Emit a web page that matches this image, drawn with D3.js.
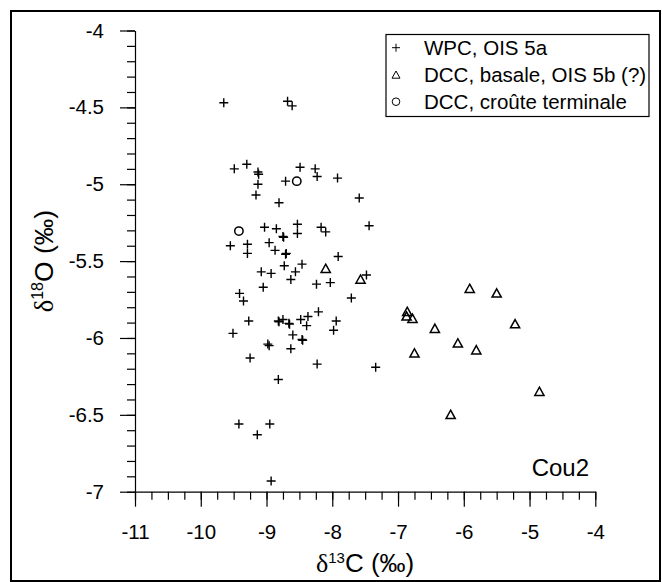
<!DOCTYPE html>
<html><head><meta charset="utf-8">
<script src="https://cdn.jsdelivr.net/npm/d3@7"></script>
<style>html,body{margin:0;padding:0;background:#fff;}</style>
</head><body>
<script>
// WPC, OIS 5a  [d13C, d18O]
const wpc = [
  [-9.65,-4.47],[-8.68,-4.46],[-8.61,-4.49],
  [-9.49,-4.90],[-9.30,-4.87],[-9.13,-4.92],[-9.12,-4.935],[-9.13,-5.00],[-9.16,-5.07],
  [-8.81,-5.12],[-8.49,-4.89],[-8.26,-4.90],[-8.23,-4.95],[-7.92,-4.96],[-8.71,-4.98],
  [-7.59,-5.09],[-7.44,-5.27],[-9.03,-5.28],[-8.85,-5.29],[-8.75,-5.34],[-8.74,-5.345],
  [-8.53,-5.26],[-8.53,-5.32],[-8.17,-5.28],[-8.10,-5.31],[-9.55,-5.40],[-9.29,-5.39],
  [-9.29,-5.45],[-8.96,-5.38],[-8.87,-5.43],[-8.70,-5.45],[-8.71,-5.455],[-7.91,-5.47],
  [-9.08,-5.57],[-8.93,-5.58],[-8.73,-5.53],[-8.46,-5.52],[-8.56,-5.57],[-8.63,-5.62],
  [-7.48,-5.59],[-8.24,-5.65],[-8.03,-5.64],[-9.05,-5.67],[-9.41,-5.71],[-9.35,-5.76],
  [-7.71,-5.74],[-8.21,-5.83],[-8.37,-5.86],[-9.27,-5.89],[-8.82,-5.89],[-8.81,-5.895],
  [-8.75,-5.88],[-8.65,-5.91],[-8.66,-5.905],[-8.48,-5.88],[-8.39,-5.92],[-7.94,-5.89],
  [-7.98,-5.95],[-9.51,-5.97],[-8.60,-5.98],[-8.46,-6.01],[-8.45,-6.015],[-8.98,-6.04],
  [-8.96,-6.05],[-8.63,-6.07],[-9.25,-6.13],[-8.23,-6.17],[-7.34,-6.19],[-8.82,-6.27],
  [-9.42,-6.56],[-8.95,-6.56],[-9.14,-6.63],[-8.93,-6.93]
];
// DCC, basale, OIS 5b (?)
const dccBasale = [
  [-8.10,-5.55],[-7.57,-5.62],[-5.91,-5.68],[-5.50,-5.71],[-6.86,-5.83],[-6.87,-5.86],
  [-6.78,-5.875],[-5.22,-5.91],[-6.44,-5.94],[-6.09,-6.035],[-5.81,-6.08],[-6.75,-6.10],
  [-4.85,-6.35],[-6.20,-6.50]
];
// DCC, croûte terminale
const dccCroute = [[-9.42,-5.305],[-8.54,-4.98]];

const xTicks = [-11,-10,-9,-8,-7,-6,-5,-4];
const yTicks = [-7,-6.5,-6,-5.5,-5,-4.5,-4];
const legendLabels = ["WPC, OIS 5a","DCC, basale, OIS 5b (?)","DCC, croûte terminale"];

const W = 662, H = 582;
const FONT = "'Liberation Sans', Arial, sans-serif";
const SERIF = "'Liberation Serif', 'Times New Roman', serif";
const svg = d3.select("body").append("svg").attr("width", W).attr("height", H)
  .style("font-family", FONT);

svg.append("rect").attr("x", 11).attr("y", 11).attr("width", 649).attr("height", 570)
  .attr("fill", "#fff").attr("stroke", "#000").attr("stroke-width", 2);

const x = d3.scaleLinear().domain([-11, -4]).range([135, 595.3]);
const y = d3.scaleLinear().domain([-7, -4]).range([491.7, 30.5]);

const fmt = d => String(d);

// minor ticks
svg.append("g").attr("transform", `translate(${x(-11)},0)`)
  .call(d3.axisLeft(y).tickValues(d3.range(0, 31).map(i => -7 + i * 0.1)).tickSize(8).tickSizeOuter(0).tickFormat(""))
  .call(g => g.select(".domain").remove());
svg.append("g").attr("transform", `translate(0,${y(-7)})`)
  .call(d3.axisBottom(x).tickValues(d3.range(0, 29).map(i => -11 + i * 0.25)).tickSize(8).tickSizeOuter(0).tickFormat(""))
  .call(g => g.select(".domain").remove());

// major axes
const yAxis = svg.append("g").attr("transform", `translate(${x(-11)},0)`)
  .call(d3.axisLeft(y).tickValues(yTicks).tickSize(15).tickSizeOuter(0).tickPadding(16).tickFormat(fmt));
const xAxis = svg.append("g").attr("transform", `translate(0,${y(-7)})`)
  .call(d3.axisBottom(x).tickValues(xTicks).tickSize(15).tickSizeOuter(0).tickPadding(18).tickFormat(fmt));
[yAxis, xAxis].forEach(g => {
  g.attr("font-family", FONT).attr("font-size", 20.5);
  g.selectAll("text").attr("fill", "#000");
});
svg.selectAll(".domain, .tick line").attr("stroke", "#000").attr("stroke-width", 1.2);

// axis titles
const xt = svg.append("text").attr("x", (x(-11) + x(-4)) / 2).attr("y", 572)
  .attr("text-anchor", "middle").attr("font-size", 26).attr("fill", "#000");
xt.append("tspan").attr("font-family", SERIF).text("δ");
xt.append("tspan").attr("font-size", 15).attr("dy", -9).text("13");
xt.append("tspan").attr("dy", 9).text("C (‰)");

const yt = svg.append("text").attr("transform", `translate(53,${(y(-4) + y(-7)) / 2}) rotate(-90)`)
  .attr("text-anchor", "middle").attr("font-size", 26.5).attr("fill", "#000");
yt.append("tspan").attr("font-family", SERIF).text("δ");
yt.append("tspan").attr("font-size", 16).attr("dy", -10).text("18");
yt.append("tspan").attr("dy", 10).text("O (‰)");

// marks
const plusPath = s => `M${-s},0H${s}M0,${-s}V${s}`;
const triPath = s => `M0,${-s}L${s},${s * 0.8}L${-s},${s * 0.8}Z`;

svg.append("g").selectAll("path").data(wpc).join("path")
  .attr("transform", d => `translate(${x(d[0])},${y(d[1])})`)
  .attr("d", plusPath(4.5)).attr("fill", "none").attr("stroke", "#000").attr("stroke-width", 1.4);
svg.append("g").selectAll("path").data(dccBasale).join("path")
  .attr("transform", d => `translate(${x(d[0])},${y(d[1])})`)
  .attr("d", triPath(4.6)).attr("fill", "none").attr("stroke", "#000").attr("stroke-width", 1.5);
svg.append("g").selectAll("circle").data(dccCroute).join("circle")
  .attr("cx", d => x(d[0])).attr("cy", d => y(d[1])).attr("r", 4.2)
  .attr("fill", "none").attr("stroke", "#000").attr("stroke-width", 1.5);

// Cou2 label
svg.append("text").attr("x", 589).attr("y", 476).attr("text-anchor", "end")
  .attr("font-size", 24).attr("fill", "#000").text("Cou2");

// legend
const lg = svg.append("g");
lg.append("rect").attr("x", 386).attr("y", 34.5).attr("width", 263).attr("height", 82)
  .attr("fill", "#fff").attr("stroke", "#000").attr("stroke-width", 1.2);
const rows = [47.7, 75, 101.7];
const legSym = [plusPath(4), triPath(4), null];
legendLabels.forEach((lab, i) => {
  if (i < 2) {
    lg.append("path").attr("transform", `translate(396,${rows[i]})`).attr("d", legSym[i])
      .attr("fill", "none").attr("stroke", "#000").attr("stroke-width", 1);
  } else {
    lg.append("circle").attr("cx", 396).attr("cy", rows[i]).attr("r", 3.8)
      .attr("fill", "none").attr("stroke", "#000").attr("stroke-width", 1);
  }
  lg.append("text").attr("x", 424).attr("y", rows[i]).attr("dy", "0.36em")
    .attr("font-size", 20.5).attr("fill", "#000").text(lab);
});
</script>
</body></html>
